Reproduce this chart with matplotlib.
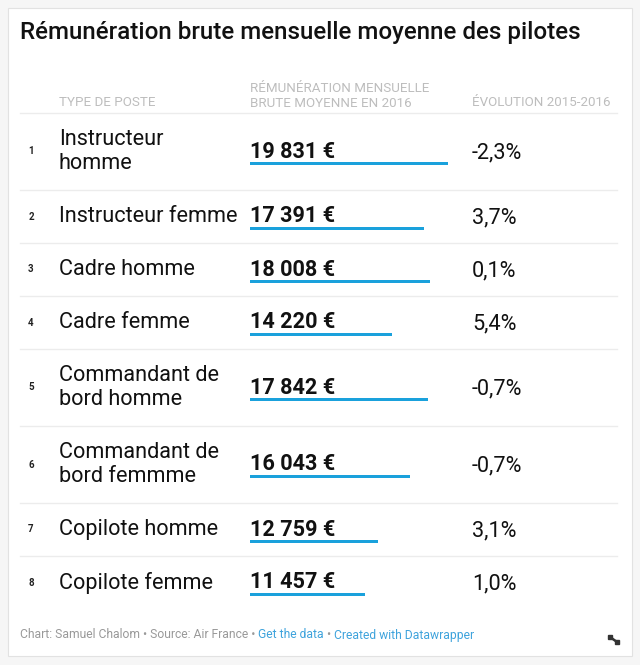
import matplotlib
matplotlib.use("Agg")
import matplotlib.pyplot as plt
from matplotlib.patches import Rectangle

plt.rcParams['font.family'] = ['Roboto', 'DejaVu Sans']

# data
labels = ["Instructeur\nhomme", "Instructeur femme", "Cadre homme", "Cadre femme",
          "Commandant de\nbord homme", "Commandant de\nbord femmme",
          "Copilote homme", "Copilote femme"]
salaires = [19831, 17391, 18008, 14220, 17842, 16043, 12759, 11457]
evolution = ["-2,3%", "3,7%", "0,1%", "5,4%", "-0,7%", "-0,7%", "3,1%", "1,0%"]

title = "Rémunération brute mensuelle moyenne des pilotes"
headers = ["TYPE DE POSTE", "RÉMUNÉRATION MENSUELLE\nBRUTE MOYENNE EN 2016",
           "ÉVOLUTION 2015-2016"]

BLUE = "#1aa1dc"
GRID = "#ececec"
HEAD = "#bdbdbd"
FS = 15.6

W, H = 640, 665
fig = plt.figure(figsize=(W / 100, H / 100), dpi=100)
fig.patch.set_facecolor("#f6f6f6")
ax = fig.add_axes([0, 0, 1, 1])
ax.set_xlim(0, W)
ax.set_ylim(H, 0)
ax.axis("off")

# card
ax.add_patch(Rectangle((8, 8), 624, 648, facecolor="white", edgecolor="#e2e2e2", lw=0.8))

ax.text(20, 33, title, fontsize=17.4, fontweight="medium", color="#111111", va="center")

# headers
ax.text(59, 103, headers[0], fontsize=9.6, color=HEAD, va="center")
ax.text(250, 96, headers[1], fontsize=9.6, color=HEAD, va="center", linespacing=1.12)
ax.text(472, 103, headers[2], fontsize=9.6, color=HEAD, va="center")
ax.plot([20, 617], [113, 113], color=GRID, lw=1)

# row layout
tops = []
y = 113
for lab in labels:
    h = 77 if "\n" in lab else 53
    tops.append((y, h))
    y += h

bar_y = []
for i, (lab, val, ev) in enumerate(zip(labels, salaires, evolution)):
    top, h = tops[i]
    c = top + h / 2
    ax.text(31, c, str(i + 1), fontsize=7, fontweight="bold", color="#222222",
            va="center", ha="center")
    ax.text(59, c, lab, fontsize=FS, color="#111111", va="center", linespacing=1.22)
    ax.text(250, c, f"{val:,} €".replace(",", " "), fontsize=FS,
            fontweight="bold", color="#111111", va="center")
    ax.text(472, c + 1, ev, fontsize=FS, color="#111111", va="center")
    bar_y.append(c + 12)
    if i < len(labels) - 1:
        ax.plot([20, 617], [top + h, top + h], color=GRID, lw=1)

# bars on their own scale
bx = fig.add_axes([250 / W, 0, 200 / W, 1])
bx.set_xlim(0, 20000)
bx.set_ylim(H, 0)
bx.axis("off")
bx.patch.set_alpha(0)
bx.barh(bar_y, salaires, height=3, color=BLUE)

# footer
FF = 8.7
t = ax.text(20, 635, "Chart: Samuel Chalom • Source: Air France • ", fontsize=FF,
            color="#999999", va="center")
t = ax.annotate("Get the data", xy=(1, 0), xycoords=t, fontsize=FF, color="#3ea3dc",
                va="bottom")
t = ax.annotate(" • ", xy=(1, 0), xycoords=t, fontsize=FF, color="#999999", va="bottom")
ax.annotate("Created with Datawrapper", xy=(1, 0), xycoords=t, fontsize=FF,
            color="#3ea3dc", va="bottom")

# resize icon
ax.plot([610, 617], [637, 642], color="#333333", lw=1.8, solid_capstyle="round")
ax.plot([610, 617], [637, 642], "s", color="#333333", ms=2.2)

fig.savefig("out.png", dpi=100, facecolor=fig.get_facecolor())
